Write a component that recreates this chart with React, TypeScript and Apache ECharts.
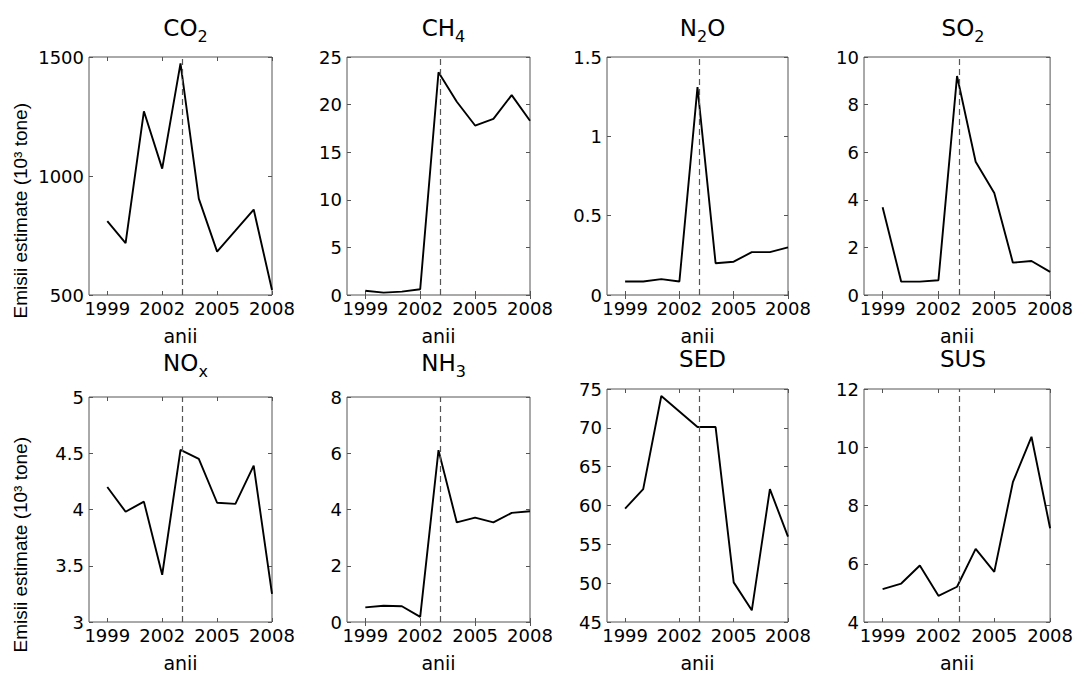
import React, { useEffect, useRef } from "react";
import * as echarts from "echarts";

const YEARS = [1999, 2000, 2001, 2002, 2003, 2004, 2005, 2006, 2007, 2008];
const X_TICKS = [1999, 2002, 2005, 2008];
const X_MIN = 1998;
const X_MAX = 2008;
const EVENT_YEAR = 2003.1;

const CO2 = [810, 718, 1272, 1031, 1473, 905, 682, 770, 859, 521];
const CH4 = [0.45, 0.25, 0.35, 0.6, 23.4, 20.3, 17.8, 18.5, 21.0, 18.3];
const N2O = [0.085, 0.085, 0.1, 0.085, 1.31, 0.2, 0.21, 0.27, 0.27, 0.3];
const SO2 = [3.69, 0.56, 0.56, 0.62, 9.2, 5.6, 4.29, 1.36, 1.43, 0.97];
const NOX = [4.2, 3.98, 4.07, 3.42, 4.53, 4.45, 4.06, 4.05, 4.39, 3.25];
const NH3 = [0.52, 0.58, 0.56, 0.18, 6.11, 3.54, 3.71, 3.54, 3.88, 3.94];
const SED = [59.6, 62.1, 74.1, 72.1, 70.1, 70.1, 50.1, 46.5, 62.1, 56.0];
const SUS = [5.13, 5.32, 5.94, 4.9, 5.21, 6.51, 5.72, 8.8, 10.36, 7.22];

// [main text, subscript]
const TITLES: [string, string][] = [
  ["CO", "2"], ["CH", "4"], ["N", "2"], ["SO", "2"],
  ["NO", "x"], ["NH", "3"], ["SED", ""], ["SUS", ""],
];
const TITLE_SUFFIX = ["", "", "O", "", "", "", "", ""];
const SERIES_VALUES = [CO2, CH4, N2O, SO2, NOX, NH3, SED, SUS];
const Y_MIN = [500, 0, 0, 0, 3, 0, 45, 4];
const Y_MAX = [1500, 25, 1.5, 10, 5, 8, 75, 12];
const Y_INTERVAL = [500, 5, 0.5, 2, 0.5, 2, 5, 2];
const X_LABEL = "anii";
const Y_LABEL = "Emisii estimate (10³ tone)";

const FONT = "DejaVu Sans, Liberation Sans, Arial, sans-serif";
const FONT_NARROW = "Liberation Sans, Arial, sans-serif";

// layout
const COL_LEFT = [89, 347, 607, 864];
const COL_RIGHT = [272, 530, 788, 1052];
const ROW_BOTTOM = [295, 625];
const PANEL_TOP = [57, 57, 57, 57, 397, 397, 389, 389];
const TITLE_TOP = [7, 7, 7, 7, 342, 342, 342, 342];
const YLABEL_TOP = [103, 437];

function buildOption() {
  const grid: any[] = [];
  const xAxis: any[] = [];
  const yAxis: any[] = [];
  const series: any[] = [];
  const title: any[] = [];

  for (let i = 0; i < 8; i++) {
    const col = i % 4;
    const row = Math.floor(i / 4);
    const left = COL_LEFT[col];
    const width = COL_RIGHT[col] - left;
    const top = PANEL_TOP[i];
    const height = ROW_BOTTOM[row] - top;
    grid.push({
      left,
      top,
      width,
      height,
      show: true,
      borderColor: "#555",
      borderWidth: 1,
      backgroundColor: "transparent",
    });
    const tickStyle = { show: true, inside: true, length: 4, lineStyle: { color: "#555", width: 1 } };
    xAxis.push({
      type: "value",
      gridIndex: i,
      position: "bottom",
      min: X_MIN,
      max: X_MAX,
      axisLine: { show: false },
      axisTick: { ...tickStyle, customValues: X_TICKS },
      axisLabel: {
        customValues: X_TICKS,
        margin: 4,
        fontSize: 18,
        color: "#000",
        fontFamily: FONT,
        formatter: (v: number) => String(v),
      },
      splitLine: { show: false },
      name: X_LABEL,
      nameLocation: "middle",
      nameGap: 31,
      nameTextStyle: { fontSize: 19, color: "#000", fontFamily: FONT },
    });
    xAxis.push({
      type: "value",
      gridIndex: i,
      position: "top",
      min: X_MIN,
      max: X_MAX,
      axisLine: { show: false },
      axisTick: { ...tickStyle, customValues: X_TICKS },
      axisLabel: { show: false },
      splitLine: { show: false },
    });
    yAxis.push({
      type: "value",
      gridIndex: i,
      position: "left",
      min: Y_MIN[i],
      max: Y_MAX[i],
      interval: Y_INTERVAL[i],
      axisLine: { show: false },
      axisTick: tickStyle,
      axisLabel: {
        margin: 5,
        fontSize: 18,
        color: "#000",
        fontFamily: FONT,
        formatter: (v: number) => String(v),
      },
      splitLine: { show: false },
    });
    yAxis.push({
      type: "value",
      gridIndex: i,
      position: "right",
      min: Y_MIN[i],
      max: Y_MAX[i],
      interval: Y_INTERVAL[i],
      axisLine: { show: false },
      axisTick: tickStyle,
      axisLabel: { show: false },
      splitLine: { show: false },
    });
    const vals = SERIES_VALUES[i];
    series.push({
      type: "line",
      xAxisIndex: 2 * i,
      yAxisIndex: 2 * i,
      data: YEARS.map((y, k) => [y, vals[k]]),
      symbol: "none",
      lineStyle: { color: "#000", width: 1.9 },
      markLine: {
        silent: true,
        symbol: "none",
        label: { show: false },
        lineStyle: { color: "#555", type: [6, 4], width: 1.2 },
        data: [{ xAxis: EVENT_YEAR }],
      },
    });
    const [main, sub] = TITLES[i];
    const suffix = TITLE_SUFFIX[i];
    let text = `{m|${main}}`;
    if (sub) text += `{s|${sub}}`;
    if (suffix) text += `{m|${suffix}}`;
    title.push({
      text,
      left: left + width / 2,
      top: TITLE_TOP[i],
      textAlign: "center",
      textStyle: {
        fontWeight: "normal",
        rich: {
          m: { fontSize: 23, fontFamily: FONT, color: "#000", fontWeight: "normal" },
          s: { fontSize: 16, fontFamily: FONT, color: "#000", fontWeight: "normal", padding: [16, 0, 0, 0] },
        },
      },
    });
  }

  const graphic = YLABEL_TOP.map((t) => ({
    type: "text",
    left: 11,
    top: t,
    rotation: Math.PI / 2,
    style: {
      text: Y_LABEL,
      fontSize: 19,
      fontFamily: FONT_NARROW,
      fill: "#000",
    },
  }));

  return {
    animation: false,
    backgroundColor: "#fff",
    title,
    grid,
    xAxis,
    yAxis,
    series,
    graphic,
  };
}

export default function App() {
  const ref = useRef<HTMLDivElement>(null);
  useEffect(() => {
    if (!ref.current) return;
    const chart = echarts.init(ref.current, null, { renderer: "svg" });
    chart.setOption(buildOption() as any);
    return () => chart.dispose();
  }, []);
  return (
    <div
      ref={ref}
      style={{ position: "absolute", left: 0, top: 0, width: 1076, height: 673, background: "#fff" }}
    />
  );
}
